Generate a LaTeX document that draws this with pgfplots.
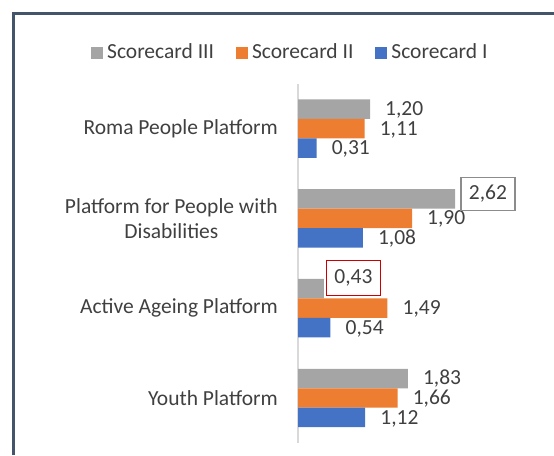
\documentclass[border=0pt]{standalone}
\usepackage{fontspec}
\setmainfont{Carlito}
\usepackage{pgfplots}
\pgfplotsset{compat=1.18}
\definecolor{sgray}{HTML}{A5A5A5}
\definecolor{sorange}{HTML}{ED7D31}
\definecolor{sblue}{HTML}{4472C4}
\definecolor{txt}{HTML}{404040}
\definecolor{framec}{HTML}{44546A}
\newcommand\cf{\fontsize{21.5pt}{24.5pt}\selectfont}
\begin{document}
\cf
\begin{tikzpicture}
\path[use as bounding box] (0,0) rectangle (554pt,455pt);
\draw[framec, line width=3pt] (13.5pt,0) -- (13.5pt,441.5pt) -- (554pt,441.5pt);
\begin{axis}[
  at={(298pt,12.1pt)}, anchor=south west,
  scale only axis, width=240pt, height=359.2pt,
  xmin=0, xmax=4, ymin=-0.5, ymax=3.5,
  axis x line=none, axis y line*=left,
  y axis line style={draw=black!15, line width=1.5pt, -},
  ytick={0,1,2,3},
  yticklabels={Youth Platform, Active Ageing Platform, {Platform for People with\\Disabilities}, Roma People Platform},
  yticklabel style={align=center, text=txt, font=\cf, inner sep=0pt, xshift=-20pt},
  major tick length=0pt,
  bar width=0.217,
  every node near coord/.append style={text=txt, font=\cf, anchor=west, inner sep=0pt, xshift=15pt},
  point meta=x,
  legend columns=3,
  legend style={at={(-0.032,1.086)}, anchor=center, draw=none, fill=none, font=\cf, text=txt,
    /tikz/every even column/.append style={column sep=20pt}},
  legend image code/.code={\draw[#1,draw=none] (0pt,-6pt) rectangle (12pt,6pt);},
  /pgf/number format/.cd, fixed, fixed zerofill, precision=2, use comma, assume math mode=true
]
\addplot[xbar, bar shift=0.217, fill=sgray, draw=none] coordinates {(1.83,0) (0.43,1) (2.62,2) (1.20,3)};
\addlegendentry{\hspace{2pt}Scorecard III}
\addplot[xbar, bar shift=0, fill=sorange, draw=none, nodes near coords,
  every node near coord/.append style={yshift=-1pt}] coordinates {(1.66,0) (1.49,1) (1.90,2) (1.11,3)};
\addlegendentry{\hspace{2pt}Scorecard II}
\addplot[xbar, bar shift=-0.217, fill=sblue, draw=none, nodes near coords,
  every node near coord/.append style={yshift=-20.5pt}] coordinates {(1.12,0) (0.54,1) (1.08,2) (0.31,3)};
\addlegendentry{\hspace{2pt}Scorecard I}
\addplot[xbar, bar shift=0.217, draw=none, fill=none, forget plot, nodes near coords,
  every node near coord/.append style={yshift=19pt}] coordinates {(1.83,0) (1.20,3)};
\addplot[xbar, bar shift=0.217, draw=none, fill=none, forget plot, nodes near coords,
  every node near coord/.append style={draw=black!45, line width=1.3pt, inner xsep=8pt, minimum height=33pt, xshift=-10pt, yshift=24.5pt}] coordinates {(2.62,2)};
\addplot[xbar, bar shift=0.217, draw=none, fill=none, forget plot, nodes near coords,
  every node near coord/.append style={draw=red!80!black, line width=1.3pt, inner xsep=8pt, minimum height=35pt, xshift=-13pt, yshift=30pt}] coordinates {(0.43,1)};
\end{axis}
\end{tikzpicture}
\end{document}
